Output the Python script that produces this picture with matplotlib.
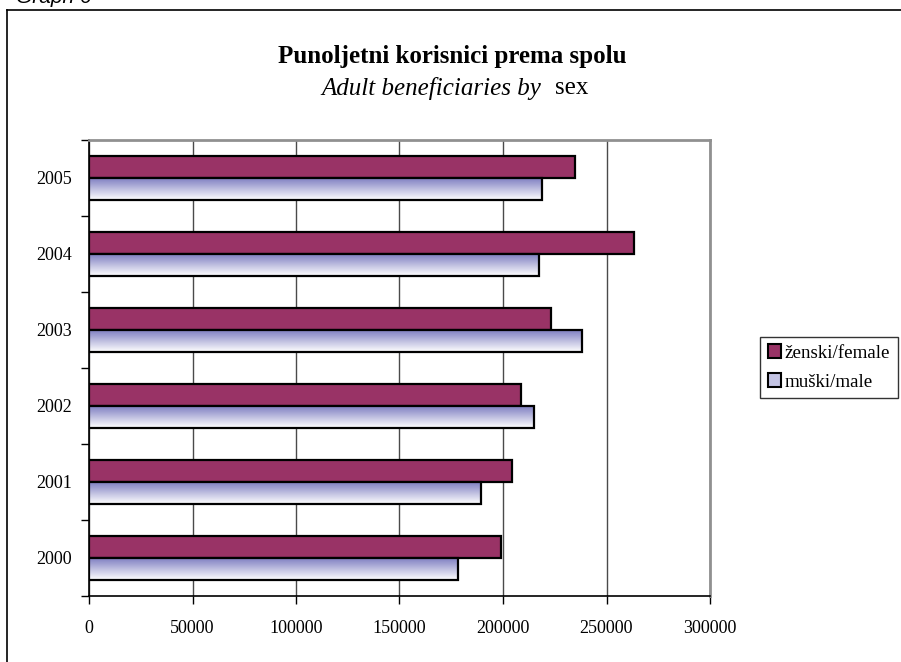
import matplotlib.pyplot as plt
import numpy as np
from matplotlib.lines import Line2D
from matplotlib.patches import Patch

years = ["2000", "2001", "2002", "2003", "2004", "2005"]
female = [199200, 204400, 208600, 223300, 263400, 234700]
male = [178100, 189400, 214900, 238400, 217300, 219000]
x_ticks = [0, 50000, 100000, 150000, 200000, 250000, 300000]

title = "Punoljetni korisnici prema spolu"
subtitle_italic = "Adult beneficiaries by"
subtitle_plain = "sex"
female_label = "ženski/female"
male_label = "muški/male"

plt.rcParams["font.family"] = ["Liberation Serif", "DejaVu Serif"]

W, H = 901, 662
fig = plt.figure(figsize=(W / 100, H / 100), dpi=100)

# outer frame, running off the right and bottom edges
fig.add_artist(Line2D([7 / W, 7 / W], [0, 1 - 10 / H], transform=fig.transFigure,
                      color="black", lw=1.2))
fig.add_artist(Line2D([7 / W, 1], [1 - 10 / H, 1 - 10 / H], transform=fig.transFigure,
                      color="black", lw=1.2))
fig.text(16 / W, 1 - 3 / H, "Graph 6", family="Liberation Sans", style="italic",
         fontsize=15, ha="left", va="baseline")

fig.text(452 / W, 1 - 57 / H, title, fontsize=18, fontweight="bold",
         ha="center", va="center")
fig.text(541 / W, 1 - 88 / H, subtitle_italic, fontsize=18, style="italic",
         ha="right", va="center")
fig.text(555 / W, 1 - 88 / H, subtitle_plain, fontsize=18,
         ha="left", va="center")

ax = fig.add_axes([89 / W, 66 / H, 621 / W, 456 / H])

y = np.arange(len(years))
h = 0.283
female_bars = ax.barh(y + h / 2, female, height=h, color="#993366",
                      edgecolor="black", linewidth=1.6, zorder=3)
male_bars = ax.barh(y - h / 2, male, height=h, color="none",
                    edgecolor="black", linewidth=1.6, zorder=4)

grad = np.linspace(0, 1, 64).reshape(-1, 1, 1)
top_rgb = np.array([0.50, 0.50, 0.76]).reshape(1, 1, 3)
img = top_rgb * (1 - grad) + grad
for bar in male_bars:
    x0, y0 = bar.get_x(), bar.get_y()
    im = ax.imshow(img, extent=[x0, x0 + bar.get_width(), y0, y0 + bar.get_height()],
                   origin="upper", aspect="auto", zorder=3.5, interpolation="bilinear")
    im.set_clip_path(bar)

ax.set_xlim(0, 300000)
ax.set_ylim(-0.5, len(years) - 0.5)
ax.set_xticks(x_ticks)
ax.set_xticklabels([str(v) for v in x_ticks])
ax.set_yticks(y)
ax.set_yticklabels(years)
ax.set_yticks(np.arange(-0.5, len(years)), minor=True)
ax.tick_params(axis="y", which="major", length=0, pad=12, labelsize=13)
ax.tick_params(axis="y", which="minor", length=6, width=1, direction="out")
ax.tick_params(axis="x", length=6, width=1, direction="out", pad=11, labelsize=13)

ax.grid(axis="x", color="#4a4a4a", linewidth=1, zorder=0)
ax.set_axisbelow(True)
for side in ("left", "bottom"):
    ax.spines[side].set_color("black")
    ax.spines[side].set_linewidth(1.2)
for side in ("top", "right"):
    ax.spines[side].set_color("#909090")
    ax.spines[side].set_linewidth(2)

handles = [
    Patch(facecolor="#993366", edgecolor="black", linewidth=1.5, label=female_label),
    Patch(facecolor="#c4c4e4", edgecolor="black", linewidth=1.5, label=male_label),
]
leg = fig.legend(handles=handles, loc="center left", bbox_to_anchor=(760 / W, 1 - 367.5 / H),
                 fontsize=13.7, frameon=True, fancybox=False, handlelength=0.7,
                 handleheight=0.7, handletextpad=0.2, borderpad=0.4, labelspacing=0.6,
                 borderaxespad=0)
leg.get_frame().set_edgecolor("black")
leg.get_frame().set_linewidth(1)

fig.savefig("out.png", dpi=100)
